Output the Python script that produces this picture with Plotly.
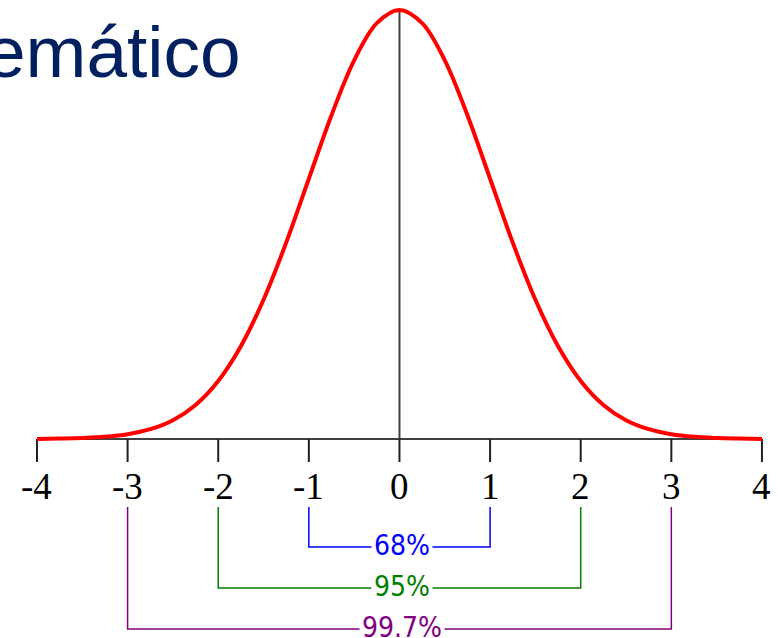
import plotly.graph_objects as go

# --- DATOS ---
# curva normal (x en desviaciones, y = densidad)
curva_x = [-4, -3.75, -3.5, -3.25, -3, -2.75, -2.5, -2.25, -2, -1.75, -1.5, -1.25, -1, -0.75, -0.5, -0.25,
           0, 0.25, 0.5, 0.75, 1, 1.25, 1.5, 1.75, 2, 2.25, 2.5, 2.75, 3, 3.25, 3.5, 3.75, 4]
curva_y = [0.0001, 0.0004, 0.0009, 0.0020, 0.0044, 0.0091, 0.0175, 0.0317, 0.0540, 0.0863, 0.1295, 0.1826,
           0.2420, 0.3011, 0.3521, 0.3867, 0.3989, 0.3867, 0.3521, 0.3011, 0.2420, 0.1826, 0.1295, 0.0863,
           0.0540, 0.0317, 0.0175, 0.0091, 0.0044, 0.0020, 0.0009, 0.0004, 0.0001]
pico = 0.3989

ticks = [-4, -3, -2, -1, 0, 1, 2, 3, 4]
tick_labels = ["-4", "-3", "-2", "-1", "0", "1", "2", "3", "4"]

porcentajes = ["68%", "95%", "99.7%"]
sigmas = [1, 2, 3]
colores = ["#0000FF", "#008000", "#800080"]

titulo = "emático"

# --- ESCALA (pixeles -> densidad) ---
W, H = 778, 638
Y_TOP, Y_BOT = 0.40824, -0.18506
X_MIN, X_MAX = -4.408, 4.177


def py(p):
    return Y_TOP - p * (Y_TOP - Y_BOT) / H


fig = go.Figure()
gris = "#404040"

# eje horizontal y linea central
fig.add_trace(go.Scatter(x=[ticks[0], ticks[-1]], y=[0, 0], mode="lines",
                         line=dict(color=gris, width=2), hoverinfo="skip"))
fig.add_trace(go.Scatter(x=[0, 0], y=[0, pico], mode="lines",
                         line=dict(color=gris, width=2), hoverinfo="skip"))

# marcas del eje
tx, ty = [], []
for t in ticks:
    tx += [t, t, None]
    ty += [0, py(462), None]
fig.add_trace(go.Scatter(x=tx, y=ty, mode="lines", line=dict(color="#202020", width=2), hoverinfo="skip"))

# curva
fig.add_trace(go.Scatter(x=curva_x, y=curva_y, mode="lines",
                         line=dict(color="#FF0000", width=4, shape="spline"), hoverinfo="skip"))

# corchetes
niveles = [547, 588, 629]
for pct, s, c, lv in zip(porcentajes, sigmas, colores, niveles):
    fig.add_trace(go.Scatter(x=[-s, -s, s, s], y=[py(507), py(lv), py(lv), py(507)], mode="lines",
                             line=dict(color=c, width=1.5), hoverinfo="skip"))
    fig.add_annotation(x=0.03, y=py(lv - 2), text=pct, showarrow=False, bgcolor="white", borderpad=2,
                       font=dict(family="DejaVu Sans Condensed", size=28, color=c))

for t, lab in zip(ticks, tick_labels):
    fig.add_annotation(x=t, y=py(486), text=lab, showarrow=False,
                       font=dict(family="Liberation Serif", size=37, color="black"))

fig.add_annotation(x=243 / W, y=1 - 52 / H, xref="paper", yref="paper", text=titulo, showarrow=False,
                   xanchor="right", yanchor="middle",
                   font=dict(family="Liberation Sans", size=73, color="#002060"))

fig.update_layout(width=W, height=H, margin=dict(l=0, r=0, t=0, b=0), showlegend=False,
                  plot_bgcolor="white", paper_bgcolor="white")
fig.update_xaxes(visible=False, range=[X_MIN, X_MAX])
fig.update_yaxes(visible=False, range=[Y_BOT, Y_TOP])

# sin margen del body para que la figura empiece en (0,0)
fig.write_html("out.html", config={"displayModeBar": False},
               post_script="document.body.style.margin='0px';")
